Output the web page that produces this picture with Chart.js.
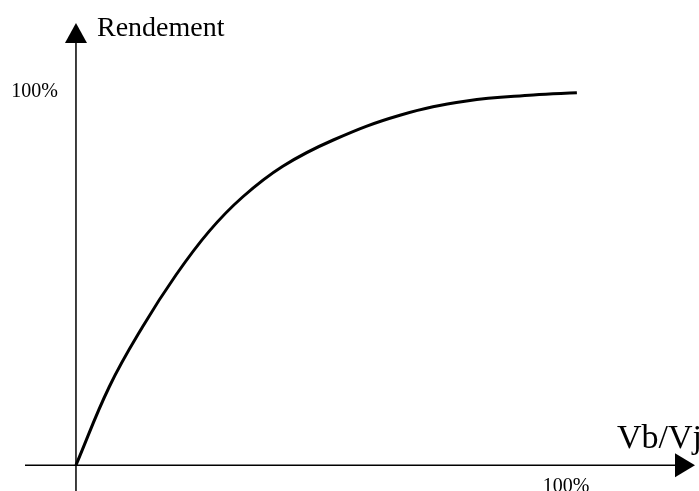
<!DOCTYPE html>
<html>
<head>
<meta charset="utf-8">
<script src="https://cdn.jsdelivr.net/npm/chart.js@4"></script>
<style>
	html, body { margin: 0; padding: 0; background: #fff; }
	#wrap { width: 699px; height: 491px; }
</style>
</head>
<body>
<div id="wrap"><canvas id="chart" width="699" height="491"></canvas></div>
<script>
// Vb/Vj (%) and rendement (%)
const ratioX = [0, 6.8, 13.6, 20.4, 27.2, 34.0, 42.2, 52.5, 66.1, 79.7, 93.3, 102.2];
const rendement = [0, 20.9, 36.9, 50.7, 62.4, 71.5, 79.7, 86.7, 93.3, 97.1, 98.7, 99.3];
const yTitle = 'Rendement';
const xTitle = 'Vb/Vj';
const tickLabel = '100%';

const points = ratioX.map((x, i) => ({ x: x, y: rendement[i] }));

// axes with arrows + labels, drawn on the scales
const arrowAxes = {
	id: 'arrowAxes',
	afterDraw(chart) {
		const ctx = chart.ctx;
		const xs = chart.scales.x;
		const ys = chart.scales.y;
		const x0 = xs.getPixelForValue(0);
		const y0 = ys.getPixelForValue(0);
		const left = xs.getPixelForValue(xs.min);
		const right = xs.getPixelForValue(xs.max);
		const top = ys.getPixelForValue(ys.max);
		const bottom = ys.getPixelForValue(ys.min);

		ctx.save();
		ctx.strokeStyle = '#000';
		ctx.fillStyle = '#000';
		ctx.lineWidth = 1.5;

		ctx.beginPath();
		ctx.moveTo(left, y0);
		ctx.lineTo(right - 18, y0);
		ctx.moveTo(x0, bottom);
		ctx.lineTo(x0, top + 18);
		ctx.stroke();

		// x arrow
		ctx.beginPath();
		ctx.moveTo(right, y0);
		ctx.lineTo(right - 20, y0 - 12);
		ctx.lineTo(right - 20, y0 + 12);
		ctx.closePath();
		ctx.fill();

		// y arrow
		ctx.beginPath();
		ctx.moveTo(x0, top);
		ctx.lineTo(x0 - 11, top + 20);
		ctx.lineTo(x0 + 11, top + 20);
		ctx.closePath();
		ctx.fill();

		ctx.textBaseline = 'alphabetic';
		ctx.textAlign = 'left';
		ctx.font = '28px "Liberation Serif", "Times New Roman", serif';
		ctx.fillText(yTitle, x0 + 21, top + 13);

		ctx.font = '34px "Liberation Serif", "Times New Roman", serif';
		ctx.fillText(xTitle, right - 78, y0 - 17);

		ctx.font = '20px "Liberation Serif", "Times New Roman", serif';
		ctx.textAlign = 'right';
		ctx.fillText(tickLabel, x0 - 18, ys.getPixelForValue(100) + 7);
		ctx.textAlign = 'center';
		ctx.fillText(tickLabel, xs.getPixelForValue(100), y0 + 27);
		ctx.restore();
	}
};

new Chart(document.getElementById('chart'), {
	type: 'line',
	data: {
		datasets: [{
			data: points,
			borderColor: '#000',
			borderWidth: 3,
			pointRadius: 0,
			fill: false,
			tension: 0.4
		}]
	},
	options: {
		responsive: false,
		animation: false,
		layout: { padding: { left: 25, right: 4, top: 23, bottom: 0 } },
		plugins: { legend: { display: false }, tooltip: { enabled: false } },
		scales: {
			x: { type: 'linear', min: -10.4, max: 126.3, display: false },
			y: { type: 'linear', min: -6.9, max: 117.9, display: false }
		}
	},
	plugins: [arrowAxes]
});
</script>
</body>
</html>
